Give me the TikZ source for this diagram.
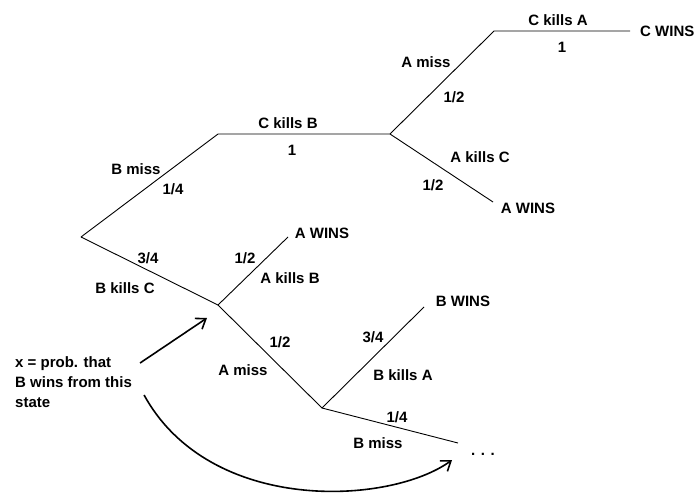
\documentclass[tikz,border=0pt]{standalone}
\usepackage{fontspec}
\setmainfont{Liberation Sans}
\usetikzlibrary{arrows.meta, positioning, calc}

\begin{document}
\begin{tikzpicture}[
  x=1pt, y=-1pt,
  every node/.style={font=\bfseries\fontsize{15}{20}\selectfont, inner sep=0pt},
  branch/.style={line width=0.9pt},
  bigarrow/.style={-{Straight Barb[length=9pt, width=13pt]}, line width=1.6pt}
]
  \useasboundingbox (0,0) rectangle (695,492);

  % branch points
  \coordinate (root) at (81,237);
  \coordinate (bmiss) at (218,134);
  \coordinate (ckb) at (390,134);
  \coordinate (amiss) at (494,31);
  \coordinate (cka) at (630,31);
  \coordinate (akc) at (493,202);
  \coordinate (bkc) at (218,305);
  \coordinate (akb) at (288,237);
  \coordinate (amisslow) at (322,408);
  \coordinate (bka) at (424,307);
  \coordinate (bmisslow) at (458,443);

  \draw[branch] (root) -- (bmiss) -- (ckb) -- (amiss) -- (cka);
  \draw[branch] (ckb) -- (akc);
  \draw[branch] (root) -- (bkc) -- (akb);
  \draw[branch] (bkc) -- (amisslow) -- (bka);
  \draw[branch] (amisslow) -- (bmisslow);

  % outcomes
  \node[right=10pt of cka] (cwins) {C WINS};
  \node at (528,208) (awinsup) {A WINS};
  \node at (322,233) (awinslow) {A WINS};
  \node at (463,301) (bwins) {B WINS};
  \node at (483,454) (dots) {. . .};

  % edge labels
  \node at (558,20) (lcka) {C kills A};
  \node at (562,47) (pcka) {1};
  \node at (426,62) (lamiss) {A miss};
  \node at (454,97) (pamiss) {1/2};
  \node at (288,123) (lckb) {C kills B};
  \node at (292,150) (pckb) {1};
  \node at (136,169) (lbmiss) {B miss};
  \node at (173,189) (pbmiss) {1/4};
  \node at (480,157) (lakc) {A kills C};
  \node at (433,185) (pakc) {1/2};
  \node at (148,258) (pbkc) {3/4};
  \node at (125,288) (lbkc) {B kills C};
  \node at (245,258) (pakb) {1/2};
  \node at (290,278) (lakb) {A kills B};
  \node at (280,342) (pamisslow) {1/2};
  \node at (243,370) (lamisslow) {A miss};
  \node at (373,337) (pbka) {3/4};
  \node at (403,375) (lbka) {B kills A};
  \node at (397,417) (pbmisslow) {1/4};
  \node at (378,443) (lbmisslow) {B miss};

  % note on the recurring state
  \node[align=left, anchor=west] at (15,382) (xtxt) {x = prob. that\\B wins from this\\state};
  \draw[bigarrow] ([shift={(8,-19)}]xtxt.east) -- ([shift={(-11,13)}]bkc);
  \draw[bigarrow] ([shift={(12,13)}]xtxt.east) .. controls (210,515) and (390,505) .. ([shift={(-19,6)}]dots.west);
\end{tikzpicture}
\end{document}
